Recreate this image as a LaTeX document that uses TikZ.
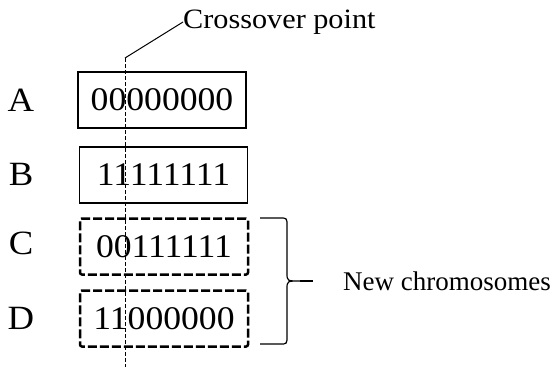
\documentclass[tikz,border=0pt]{standalone}
\usepackage{fontspec}
\setmainfont{Liberation Serif}
\newfontfamily\bitfont[FakeStretch=1.08]{Liberation Serif}
\usepackage{tikz}
\usetikzlibrary{calc}

\begin{document}
\begin{tikzpicture}[x=1pt,y=-1pt,
    parent/.style={draw, line width=1.1pt, minimum width=168pt, minimum height=56pt, inner sep=0pt, font=\bitfont\fontsize{33}{33}\selectfont},
    child/.style={parent, line width=2.5pt, dash pattern=on 9pt off 3pt, rounded corners=2pt},
    letter/.style={font=\bitfont\fontsize{34}{34}\selectfont},
    label/.style={anchor=west, inner sep=0pt, font=\fontsize{27}{27}\selectfont}]
        \useasboundingbox (0,0) rectangle (551,367);

        \node [parent] (A) at (162,100) {00000000};
        \node [parent] (B) at (163.5,175) {11111111};
        \node [child] (C) at (164,246.5) {00111111};
        \node [child] (D) at (164,318.5) {11000000};

        \node [letter] (a) at (21,100) {A};
        \node [letter] (b) at (21,174) {B};
        \node [letter] (c) at (21,243) {C};
        \node [letter] (d) at (21,318) {D};

        \coordinate (cut) at (125,58);
        \coordinate (cutend) at (125,367);
        \node [label, font=\bitfont\fontsize{28}{28}\selectfont] (point) at (183,22) {Crossover point};
        \draw [line width=0.5pt, dash pattern=on 4pt off 2pt] (cut) -- (cutend);
        \draw [line width=1pt] (cut) -- (point.west);

        \coordinate (top) at (260,218);
        \coordinate (bot) at (260,344);
        \coordinate (tip) at (300,281);
        \node [label] (new) at (343,281) {New chromosomes};
        \draw [line width=1.2pt] (top) -- ++(20,0) .. controls (287,218) .. (287,226)
            -- (287,273) .. controls (287,281) .. (tip)
            .. controls (287,281) .. (287,289) -- (287,336)
            .. controls (287,344) .. ($(bot)+(20,0)$) -- (bot);
        \draw [line width=1.2pt] (tip) -- ++(13,0);
\end{tikzpicture}
\end{document}
